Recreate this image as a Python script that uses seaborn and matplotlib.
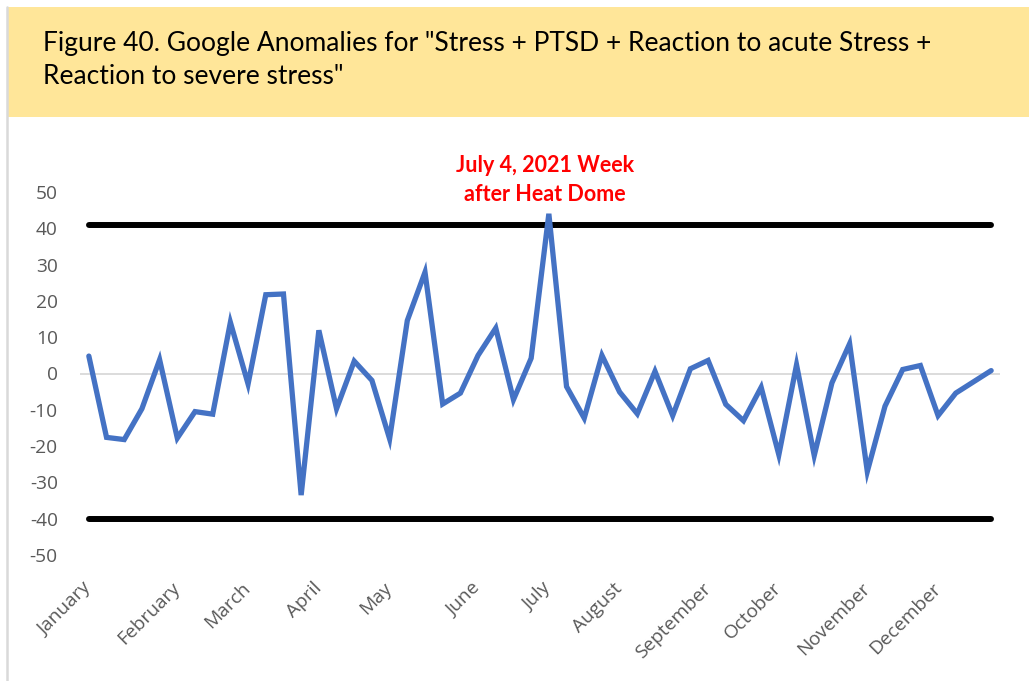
import matplotlib
matplotlib.use("Agg")
import matplotlib.pyplot as plt
from matplotlib.patches import Rectangle
from matplotlib.lines import Line2D
from matplotlib.transforms import blended_transform_factory
import seaborn as sns
import pandas as pd

# Weekly anomaly scores, 2021 (weeks starting Sunday Jan 3)
anomaly = [
    4.8, -17.6, -18.2, -9.7, 3.8, -17.8, -10.5, -11.2, 14.1, -2.9,
    21.7, 21.9, -33.5, 11.9, -9.7, 3.4, -1.9, -18.0, 14.6, 27.9,
    -8.4, -5.4, 5.0, 12.5, -7.2, 4.2, 44.0, -3.6, -12.3, 5.0,
    -5.1, -11.1, 0.6, -11.6, 1.3, 3.6, -8.5, -13.0, -3.8, -22.4,
    2.4, -22.6, -2.6, 8.2, -27.0, -9.0, 1.1, 2.2, -11.6, -5.4,
    -2.3, 0.8,
]
upper_threshold = 40.8
lower_threshold = -40.0

months = ["January", "February", "March", "April", "May", "June",
          "July", "August", "September", "October", "November", "December"]
month_first_week = [0, 5, 9, 13, 17, 22, 26, 30, 35, 39, 44, 48]

y_ticks = [50, 40, 30, 20, 10, 0, -10, -20, -30, -40, -50]

peak_week = 26
peak_label = "July 4, 2021 Week\nafter Heat Dome"
title = ('Figure 40. Google Anomalies for "Stress + PTSD + Reaction to acute Stress +\n'
         'Reaction to severe stress"')

weeks = list(range(len(anomaly)))
df = pd.DataFrame({"week": weeks, "anomaly": anomaly,
                   "upper": [upper_threshold] * len(weeks),
                   "lower": [lower_threshold] * len(weeks)})

sns.set_theme(style="white")
plt.rcParams["font.family"] = ["Open Sans", "DejaVu Sans"]

W, H = 1029, 681
fig = plt.figure(figsize=(W / 100, H / 100), dpi=100)
fig.patch.set_facecolor("white")

# Header band and left border
fig.add_artist(Rectangle((8 / W, 1 - 117 / H), 1 - 8 / W, 110 / H,
                         transform=fig.transFigure, facecolor="#FFE699",
                         edgecolor="none", zorder=0))
fig.add_artist(Line2D([7 / W, 7 / W], [0, 1 - 7 / H], transform=fig.transFigure,
                      color="#D9D9D9", linewidth=1.8))
fig.text(43 / W, 1 - 60 / H, title, ha="left", va="center",
         fontsize=19, family=["Lato", "DejaVu Sans"], color="black",
         linespacing=1.36)

ax = fig.add_axes([80 / W, 1 - 555 / H, 920 / W, 363 / H])
ax.set_facecolor("white")

ax.axhline(0, color="#D9D9D9", linewidth=1.3, zorder=1)

sns.lineplot(data=df, x="week", y="upper", ax=ax, color="black",
             linewidth=4.3, solid_capstyle="round", zorder=2)
sns.lineplot(data=df, x="week", y="lower", ax=ax, color="black",
             linewidth=4.3, solid_capstyle="round", zorder=2)
sns.lineplot(data=df, x="week", y="anomaly", ax=ax, color="#4472C4",
             linewidth=3.8, solid_joinstyle="miter", solid_capstyle="round",
             zorder=3)

ax.set_xlim(-0.5, len(weeks) - 0.5)
ax.set_ylim(-50, 50)
ax.set_yticks(y_ticks)
ax.set_yticklabels([str(v) for v in y_ticks])
ax.set_xticks(month_first_week)
ax.set_xticklabels(months, rotation=45, ha="right", va="center",
                   rotation_mode="anchor")
ax.tick_params(axis="both", length=0, colors="#595959", labelsize=13.8)
ax.tick_params(axis="y", pad=16)
ax.tick_params(axis="x", pad=22)
ax.set_xlabel("")
ax.set_ylabel("")
for s in ax.spines.values():
    s.set_visible(False)

# Callout above the peak week
callout_tf = blended_transform_factory(ax.transData, fig.transFigure)
ax.text(peak_week - 0.2, 1 - 180 / H, peak_label, transform=callout_tf,
        ha="center", va="center", color="#FF0000", fontsize=15.5,
        fontweight="bold", family=["Lato", "DejaVu Sans"], linespacing=1.52,
        clip_on=False)

fig.savefig("out.png", dpi=100, facecolor="white")
